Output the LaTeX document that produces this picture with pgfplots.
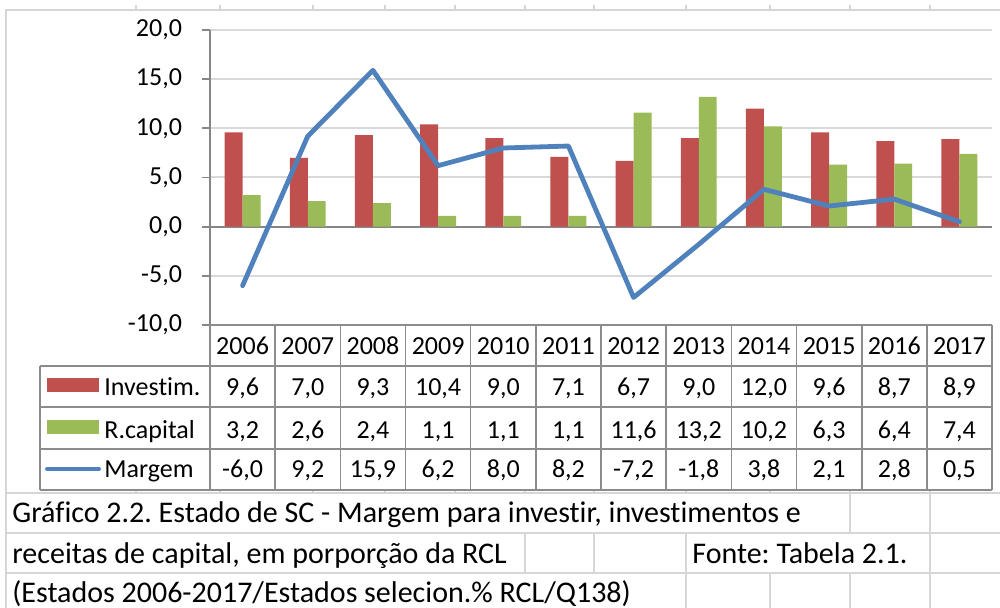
\documentclass[border=0pt]{standalone}
\usepackage{pgfplots}
\pgfplotsset{compat=1.18}
\usepackage{fontspec}
\setmainfont{Carlito}[Ligatures=NoCommon]
\frenchspacing

\definecolor{barred}{RGB}{192,80,77}
\definecolor{bargreen}{RGB}{155,187,89}
\definecolor{lineblue}{RGB}{79,129,189}
\definecolor{gridgray}{RGB}{217,217,217}
\definecolor{axisgray}{RGB}{134,134,134}
\definecolor{tablegray}{RGB}{140,140,140}
\definecolor{cellgray}{RGB}{214,214,214}

\begin{document}
\begin{tikzpicture}[font=\fontsize{13}{15.6}\selectfont]
\useasboundingbox (0,0) rectangle (500pt,-304pt);

\begin{axis}[
  at={(105pt,-162.5pt)}, anchor=south west,
  scale only axis, width=391pt, height=147.5pt,
  xmin=-0.5, xmax=11.5, ymin=-10, ymax=20,
  axis x line=none,
  axis y line*=left,
  y axis line style={axisgray, line width=0.9pt, -},
  ytick={-10,-5,0,5,10,15,20},
  ytick style={axisgray, line width=0.9pt},
  tick align=outside, major tick length=4pt,
  ymajorgrids, y grid style={gridgray, line width=1pt},
  yticklabel style={font=\fontsize{13}{15.6}\selectfont, xshift=-6.5pt,
    /pgf/number format/.cd, fixed, fixed zerofill, precision=1, use comma,
    assume math mode=true},
  clip=false,
]
\draw[axisgray, line width=0.9pt] (axis cs:-0.5,0) -- (axis cs:11.5,0);

% Investim.
\addplot[ybar, bar width=0.276, bar shift=-0.138, fill=barred, draw=none]
coordinates {(0,9.6) (1,7.0) (2,9.3) (3,10.4) (4,9.0) (5,7.1) (6,6.7) (7,9.0) (8,12.0) (9,9.6) (10,8.7) (11,8.9)};
% R.capital
\addplot[ybar, bar width=0.276, bar shift=0.138, fill=bargreen, draw=none]
coordinates {(0,3.2) (1,2.6) (2,2.4) (3,1.1) (4,1.1) (5,1.1) (6,11.6) (7,13.2) (8,10.2) (9,6.3) (10,6.4) (11,7.4)};
% Margem
\addplot[lineblue, line width=2.4pt, line join=round, line cap=round, mark=none]
coordinates {(0,-6.0) (1,9.2) (2,15.9) (3,6.2) (4,8.0) (5,8.2) (6,-7.2) (7,-1.8) (8,3.8) (9,2.1) (10,2.8) (11,0.5)};
\end{axis}

\begin{scope}[x=0.5pt, y=-0.5pt]
% chart area border and the sheet's cells around it
\draw[cellgray, line width=1pt] (1000,10) -- (6,10) -- (6,608);
\foreach \cx in {136,220,313,385,455,525,594,686,770,850,930}
  \draw[cellgray, line width=1pt] (\cx,5) -- (\cx,10);
\foreach \cx in {136,220,313,385,455,525,594,686,770,850,930}
  \draw[cellgray, line width=1pt] (\cx,490) -- (\cx,493);
\draw[cellgray, line width=1.2pt] (6,493) -- (1000,493);
\draw[cellgray, line width=1.2pt] (6,533) -- (1000,533);
\draw[cellgray, line width=1.2pt] (6,573) -- (1000,573);
\foreach \cx in {850,930} \draw[cellgray, line width=1.2pt] (\cx,493) -- (\cx,533);
\foreach \cx in {525,594,686,930} \draw[cellgray, line width=1.2pt] (\cx,533) -- (\cx,573);
\foreach \cx in {686,770,850,930} \draw[cellgray, line width=1.2pt] (\cx,573) -- (\cx,608);

\begin{scope}[font=\fontsize{15}{18}\selectfont]
\node[anchor=base west, inner sep=0pt] at (12,522) {Gráfico 2.2. Estado de SC - Margem para investir, investimentos e};
\node[anchor=base west, inner sep=0pt] at (12,563) {receitas de capital, em porporção da RCL};
\node[anchor=base west, inner sep=0pt] at (692,563) {Fonte: Tabela 2.1.};
\node[anchor=base west, inner sep=0pt] at (12,602) {(Estados 2006-2017/Estados selecion.\% RCL/Q138)};
\end{scope}

% data table
\draw[tablegray, line width=0.8pt] (210,325) -- (992,325);
\foreach \ry in {366,407,449,490}
  \draw[tablegray, line width=0.8pt] (40,\ry) -- (992,\ry);
\draw[tablegray, line width=0.8pt] (40,366) -- (40,490);
\foreach \i in {0,...,12}
  \draw[tablegray, line width=0.8pt] ({210+65.17*\i},325) -- ({210+65.17*\i},490);

\foreach \yr [count=\i from 0] in {2006,2007,2008,2009,2010,2011,2012,2013,2014,2015,2016,2017}
  \node[anchor=base, inner sep=0pt] at ({242.6+65.17*\i},355) {\yr};
\foreach \v [count=\i from 0] in {{9,6},{7,0},{9,3},{10,4},{9,0},{7,1},{6,7},{9,0},{12,0},{9,6},{8,7},{8,9}}
  \node[anchor=base, inner sep=0pt] at ({242.6+65.17*\i},396) {\v};
\foreach \v [count=\i from 0] in {{3,2},{2,6},{2,4},{1,1},{1,1},{1,1},{11,6},{13,2},{10,2},{6,3},{6,4},{7,4}}
  \node[anchor=base, inner sep=0pt] at ({242.6+65.17*\i},438) {\v};
\foreach \v [count=\i from 0] in {{-6,0},{9,2},{15,9},{6,2},{8,0},{8,2},{-7,2},{-1,8},{3,8},{2,1},{2,8},{0,5}}
  \node[anchor=base, inner sep=0pt] at ({242.6+65.17*\i},478) {\v};

% legend keys
\fill[barred] (47,378) rectangle (99,392);
\fill[bargreen] (47,420) rectangle (99,434);
\draw[lineblue, line width=2pt, line cap=round] (47,469) -- (99,469);
\node[anchor=base west, inner sep=0pt] at (104,396) {Investim.};
\node[anchor=base west, inner sep=0pt] at (104,438) {R.capital};
\node[anchor=base west, inner sep=0pt] at (104,478) {Margem};
\end{scope}
\end{tikzpicture}
\end{document}
